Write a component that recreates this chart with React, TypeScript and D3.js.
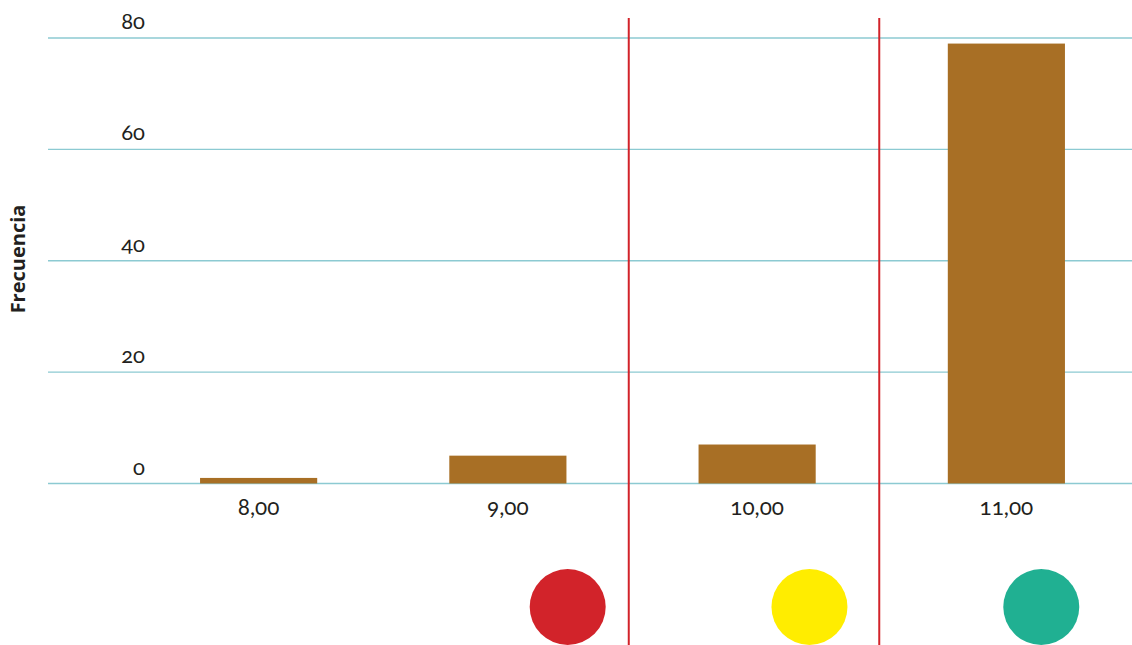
import React from "react";
import * as d3 from "d3";

const categories = ["8,00", "9,00", "10,00", "11,00"];
const frequencies = [1, 5, 7, 79];
const yTicks = [0, 20, 40, 60, 80];
const cutPoints = [9.485, 10.49]; // in score units (8..11)
const markerScores = [9.24, 10.21, 11.14];
const markerColors = ["#d2232a", "#ffed00", "#20b092"];

const W = 1132;
const H = 645;

export default function App() {
  const x = d3
    .scaleBand<string>()
    .domain(categories)
    .range([134, 1131])
    .paddingInner(0.53)
    .paddingOuter(0.265);
  const y = d3.scaleLinear().domain([0, 80]).range([483.5, 38]);
  const first = (x(categories[0]) ?? 0) + x.bandwidth() / 2;
  const last = (x(categories[3]) ?? 0) + x.bandwidth() / 2;
  const xs = d3.scaleLinear().domain([8, 11]).range([first, last]);

  const numFont = {
    fontFamily: "Lato, 'Open Sans', sans-serif",
    fontFeatureSettings: "'onum' 1",
    fontVariantNumeric: "oldstyle-nums",
  } as React.CSSProperties;

  return (
    <svg
      width={W}
      height={H}
      style={{ position: "absolute", left: 0, top: 0, background: "#fff" }}
    >
      {yTicks.map((t) => (
        <g key={t}>
          <line x1={48} x2={W} y1={y(t)} y2={y(t)} stroke="#8ccad2" strokeWidth={1.3} />
          <text
            x={145}
            y={y(t) - 9}
            textAnchor="end"
            fontSize={22}
            fill="#231f20"
            style={numFont}
          >
            {t}
          </text>
        </g>
      ))}
      {categories.map((c, i) => (
        <g key={c}>
          <rect
            x={x(c)}
            y={y(frequencies[i])}
            width={x.bandwidth()}
            height={y(0) - y(frequencies[i])}
            fill="#a86f25"
          />
          <text
            x={(x(c) ?? 0) + x.bandwidth() / 2}
            y={515}
            textAnchor="middle"
            fontSize={22.5}
            fill="#231f20"
            style={numFont}
          >
            {c}
          </text>
        </g>
      ))}
      {cutPoints.map((v) => (
        <line key={v} x1={xs(v)} x2={xs(v)} y1={18} y2={H} stroke="#d2232a" strokeWidth={2} />
      ))}
      {markerScores.map((v, i) => (
        <circle key={v} cx={xs(v)} cy={607} r={38} fill={markerColors[i]} />
      ))}
      <text
        transform={`translate(25,259) rotate(-90)`}
        textAnchor="middle"
        fontSize={20}
        fontWeight="bold"
        fill="#231f20"
        style={{ fontFamily: "'Open Sans', sans-serif" }}
      >
        Frecuencia
      </text>
    </svg>
  );
}
